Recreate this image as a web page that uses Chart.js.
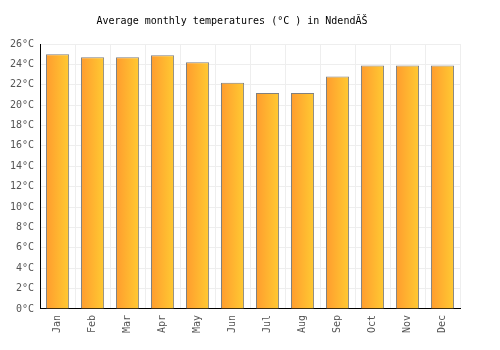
<!DOCTYPE html>
<html>
<head>
<meta charset="utf-8">
<script src="https://cdn.jsdelivr.net/npm/chart.js@4.4.0/dist/chart.umd.min.js"></script>
<style>
  html, body { margin: 0; padding: 0; background: #fff; }
  #wrap { width: 500px; height: 350px; }
</style>
</head>
<body>
<div id="wrap"><canvas id="chart" width="500" height="350"></canvas></div>
<script>
const months = ['Jan', 'Feb', 'Mar', 'Apr', 'May', 'Jun', 'Jul', 'Aug', 'Sep', 'Oct', 'Nov', 'Dec'];
const temps = [25.0, 24.7, 24.7, 24.9, 24.2, 22.2, 21.2, 21.2, 22.8, 23.9, 23.9, 23.9];
const yTicks = [0, 2, 4, 6, 8, 10, 12, 14, 16, 18, 20, 22, 24, 26];
const titleText = 'Average monthly temperatures (°C ) in NdendĂŠ';

const FONT = 'DejaVu Sans Mono';

// paint each bar with a horizontal orange -> yellow gradient once positions are known
const barGradients = {
  id: 'barGradients',
  beforeDatasetsDraw(chart) {
    const ctx = chart.ctx;
    const meta = chart.getDatasetMeta(0);
    meta.data.forEach(bar => {
      const { x, width } = bar.getProps(['x', 'width'], true);
      if (!isFinite(x) || !isFinite(width)) return;
      const g = ctx.createLinearGradient(x - width / 2, 0, x + width / 2, 0);
      g.addColorStop(0, '#ff9c2e');
      g.addColorStop(1, '#ffca32');
      // options may be shared between bars, so give each its own copy
      bar.options = Object.assign({}, bar.options, { backgroundColor: g });
    });
  }
};

new Chart(document.getElementById('chart').getContext('2d'), {
  type: 'bar',
  data: {
    labels: months,
    datasets: [{
      data: temps,
      backgroundColor: '#ffb030',
      borderColor: '#808080',
      borderWidth: 1,
      borderSkipped: 'bottom',
      categoryPercentage: 0.66,
      barPercentage: 1
    }]
  },
  options: {
    responsive: false,
    animation: false,
    layout: { padding: { left: 4, right: 40, top: 0, bottom: 11 } },
    plugins: {
      legend: { display: false },
      tooltip: { enabled: false },
      title: {
        display: true,
        text: titleText,
        color: '#000',
        font: { family: FONT, size: 10, weight: 'normal' },
        padding: { top: 15, bottom: 17 }
      }
    },
    scales: {
      x: {
        grid: { color: '#eeeeee', offset: true, drawTicks: false },
        border: { color: '#000', width: 1 },
        ticks: {
          color: '#555',
          font: { family: FONT, size: 10 },
          maxRotation: 90,
          minRotation: 90,
          padding: 6
        }
      },
      y: {
        min: 0,
        max: 26,
        afterBuildTicks: (axis) => { axis.ticks = yTicks.map(v => ({ value: v })); },
        grid: { color: '#eeeeee', drawTicks: false },
        border: { color: '#000', width: 1 },
        ticks: {
          color: '#555',
          font: { family: FONT, size: 10 },
          padding: 6,
          callback: (v) => v + '°C'
        }
      }
    }
  },
  plugins: [barGradients]
});
</script>
</body>
</html>
